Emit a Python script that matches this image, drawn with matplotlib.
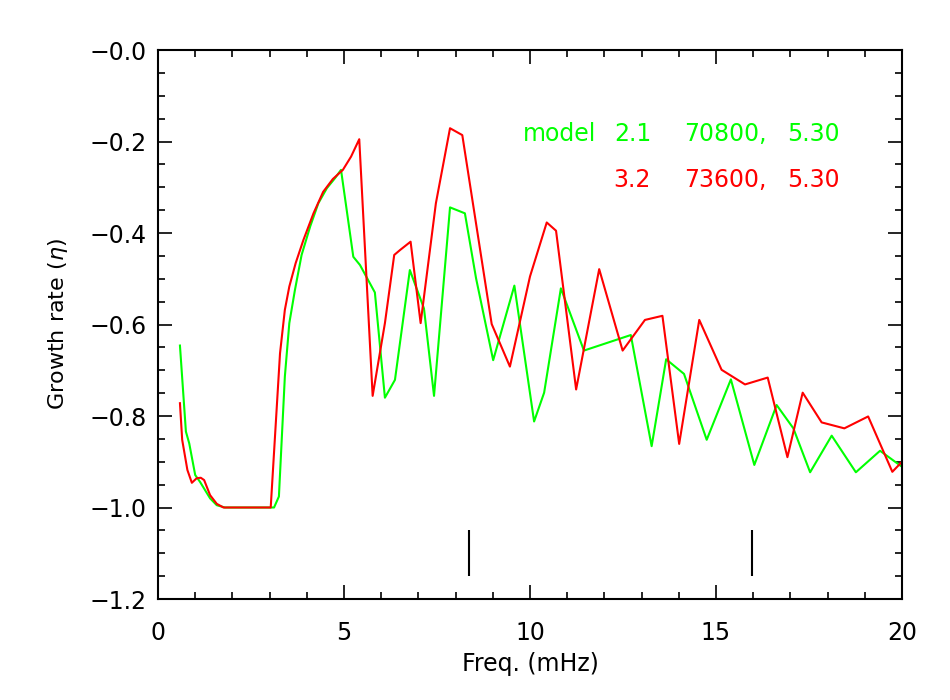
import matplotlib
matplotlib.use("Agg")
import matplotlib.pyplot as plt
from matplotlib.ticker import MultipleLocator, FuncFormatter

# ---- data ----
freq_21 = [0.59, 0.75, 0.84, 1.00, 1.13, 1.40, 1.58, 1.80, 3.06, 3.12, 3.25, 3.41,
           3.53, 3.68, 3.86, 4.09, 4.31, 4.54, 4.76, 4.92, 5.25, 5.43, 5.83, 6.10,
           6.37, 6.77, 7.15, 7.42, 7.85, 8.25, 8.55, 9.01, 9.58, 10.11, 10.38, 10.83,
           11.45, 12.71, 13.27, 13.66, 14.14, 14.75, 15.40, 16.03, 16.63, 17.08,
           17.53, 18.11, 18.76, 19.41, 20.0]
eta_21 = [-0.646, -0.834, -0.860, -0.929, -0.944, -0.980, -0.995, -1.0, -1.0, -1.0,
          -0.976, -0.714, -0.597, -0.525, -0.448, -0.386, -0.335, -0.302, -0.280,
          -0.262, -0.452, -0.470, -0.530, -0.760, -0.721, -0.481, -0.565, -0.756,
          -0.344, -0.357, -0.499, -0.678, -0.515, -0.812, -0.749, -0.521, -0.657,
          -0.623, -0.866, -0.676, -0.708, -0.852, -0.720, -0.907, -0.776, -0.827,
          -0.923, -0.843, -0.923, -0.876, -0.911]

freq_32 = [0.59, 0.65, 0.79, 0.91, 1.04, 1.15, 1.24, 1.40, 1.58, 1.76, 3.03, 3.15,
           3.28, 3.41, 3.53, 3.70, 3.91, 4.18, 4.44, 4.70, 4.97, 5.19, 5.41, 5.77,
           6.10, 6.35, 6.51, 6.79, 7.06, 7.47, 7.85, 8.18, 8.97, 9.46, 10.0, 10.45,
           10.70, 11.24, 11.86, 12.49, 13.09, 13.56, 14.01, 14.55, 15.15, 15.78,
           16.39, 16.92, 17.33, 17.84, 18.45, 19.09, 19.74, 20.0]
eta_32 = [-0.772, -0.852, -0.918, -0.946, -0.936, -0.935, -0.940, -0.973, -0.992,
          -1.0, -1.0, -0.838, -0.663, -0.568, -0.517, -0.466, -0.415, -0.357, -0.310,
          -0.282, -0.262, -0.233, -0.195, -0.756, -0.597, -0.448, -0.437, -0.419,
          -0.597, -0.335, -0.171, -0.186, -0.599, -0.692, -0.495, -0.377, -0.395,
          -0.742, -0.479, -0.657, -0.590, -0.581, -0.861, -0.590, -0.699, -0.731,
          -0.716, -0.890, -0.749, -0.814, -0.827, -0.801, -0.922, -0.900]

marker_freqs = [8.37, 15.96]
marker_ymin, marker_ymax = -1.15, -1.05

label_21 = ["model", "2.1", "70800,", "5.30"]
label_32 = ["3.2", "73600,", "5.30"]

GREEN = "#00ff00"
RED = "#ff0000"

plt.rcParams['font.family'] = ['DejaVu Sans']
plt.rcParams['mathtext.fontset'] = 'dejavusans'

fig = plt.figure(figsize=(9.5, 7), dpi=100)
ax = fig.add_axes([158/950, 1 - 599/700, (902-158)/950, (599-50)/700])

ax.plot(freq_21, eta_21, color=GREEN, lw=1.5, clip_on=True)
ax.plot(freq_32, eta_32, color=RED, lw=1.5, clip_on=True)
ax.vlines(marker_freqs, marker_ymin, marker_ymax, color='black', lw=1.5)

ax.set_xlim(0, 20)
ax.set_ylim(-1.2, 0.0)

ax.xaxis.set_major_locator(MultipleLocator(5))
ax.xaxis.set_minor_locator(MultipleLocator(1))
ax.yaxis.set_major_locator(MultipleLocator(0.2))
ax.yaxis.set_minor_locator(MultipleLocator(0.05))
ax.yaxis.set_major_formatter(FuncFormatter(lambda v, p: "\u2212%.1f" % abs(v)))
ax.xaxis.set_major_formatter(FuncFormatter(lambda v, p: "%d" % round(v)))

ax.tick_params(which='both', direction='in', top=True, right=True,
               labelsize=17, width=1.2, color='black')
ax.tick_params(which='major', length=10)
ax.tick_params(which='minor', length=5)
ax.tick_params(axis='y', which='major', pad=8)
ax.tick_params(axis='x', which='major', pad=16)
for s in ax.spines.values():
    s.set_linewidth(1.5)

ax.set_xlabel("Freq. (mHz)", fontsize=17, labelpad=5)
ax.set_ylabel(r"Growth rate ($\eta$)", fontsize=16, labelpad=14)

xs21 = [0.4906, 0.6129, 0.7070, 0.8454]
for s, xf in zip(label_21, xs21):
    ax.text(xf, 0.8475, s, transform=ax.transAxes, color=GREEN, fontsize=17,
            ha='left', va='center')
xs32 = [0.6116, 0.7070, 0.8454]
for s, xf in zip(label_32, xs32):
    ax.text(xf, 0.7641, s, transform=ax.transAxes, color=RED, fontsize=17,
            ha='left', va='center')

fig.savefig("out.png", dpi=100)
